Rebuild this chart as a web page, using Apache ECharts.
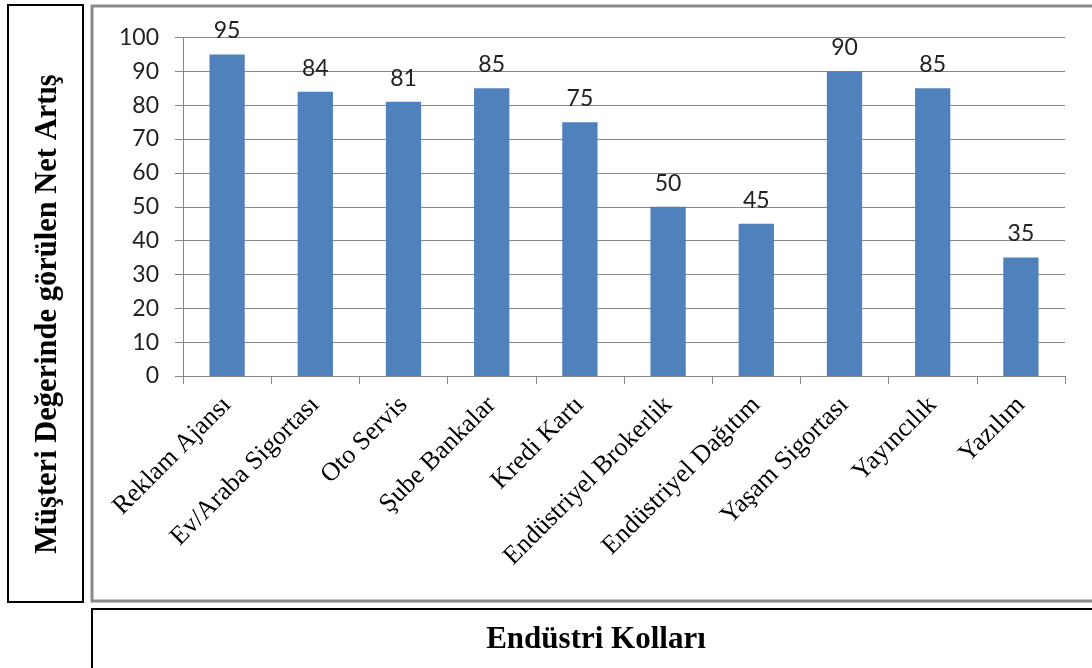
<!DOCTYPE html>
<html>
<head>
<meta charset="utf-8">
<script src="https://cdn.jsdelivr.net/npm/echarts@6/dist/echarts.min.js"></script>
<style>
  html, body { margin: 0; padding: 0; background: #fff; }
  #chart { width: 1092px; height: 668px; }
</style>
</head>
<body>
<div id="chart"></div>
<script>
// veriler
const categories = ['Reklam Ajansı', 'Ev/Araba Sigortası', 'Oto Servis', 'Şube Bankalar', 'Kredi Kartı',
    'Endüstriyel Brokerlik', 'Endüstriyel Dağıtım', 'Yaşam Sigortası', 'Yayıncılık', 'Yazılım'];
const values = [95, 84, 81, 85, 75, 50, 45, 90, 85, 35];
const yTicks = [0, 10, 20, 30, 40, 50, 60, 70, 80, 90, 100];

const yTitle = 'Müşteri Değerinde görülen Net Artış';
const xTitle = 'Endüstri Kolları';

const chart = echarts.init(document.getElementById('chart'));

const option = {
    backgroundColor: '#ffffff',
    animation: false,
    grid: { left: 183, right: 27, top: 37.5, bottom: 292 },
    xAxis: {
        type: 'category',
        data: categories,
        axisLine: { lineStyle: { color: '#868686', width: 1 } },
        axisTick: { show: true, length: 8, alignWithLabel: false, lineStyle: { color: '#868686' } },
        axisLabel: {
            interval: 0,
            rotate: 45,
            margin: 25,
            color: '#000',
            fontFamily: 'Liberation Serif',
            fontSize: 26
        }
    },
    yAxis: {
        type: 'value',
        min: yTicks[0],
        max: yTicks[yTicks.length - 1],
        interval: 10,
        axisLine: { show: true, lineStyle: { color: '#868686', width: 1 } },
        axisTick: { show: true, length: 8, lineStyle: { color: '#868686' } },
        splitLine: { lineStyle: { color: '#868686', width: 1 } },
        axisLabel: {
            margin: 24,
            color: '#222',
            fontFamily: 'Lato',
            fontSize: 23
        }
    },
    series: [{
        type: 'bar',
        data: values,
        barWidth: '40%',
        itemStyle: { color: '#4F81BD' },
        label: {
            show: true,
            position: 'top',
            distance: 12,
            color: '#222',
            fontFamily: 'Lato',
            fontSize: 23
        }
    }],
    graphic: [
        {
            type: 'rect',
            shape: { x: 8, y: 5, width: 75, height: 597 },
            style: { fill: 'none', stroke: '#000', lineWidth: 2 }
        },
        {
            type: 'rect',
            shape: { x: 92, y: 6, width: 1010, height: 595 },
            style: { fill: 'none', stroke: '#8a8a8a', lineWidth: 3 }
        },
        {
            type: 'rect',
            shape: { x: 92, y: 609, width: 1010, height: 60 },
            style: { fill: 'none', stroke: '#000', lineWidth: 2 }
        },
        {
            type: 'text',
            x: 48,
            y: 314,
            rotation: Math.PI / 2,
            style: {
                text: yTitle,
                fill: '#000',
                font: 'bold 30.5px "Liberation Serif"',
                textAlign: 'center',
                textVerticalAlign: 'middle'
            }
        },
        {
            type: 'text',
            x: 596,
            y: 640,
            style: {
                text: xTitle,
                fill: '#000',
                font: 'bold 31px "Liberation Serif"',
                textAlign: 'center',
                textVerticalAlign: 'middle'
            }
        }
    ]
};

chart.setOption(option);
</script>
</body>
</html>
